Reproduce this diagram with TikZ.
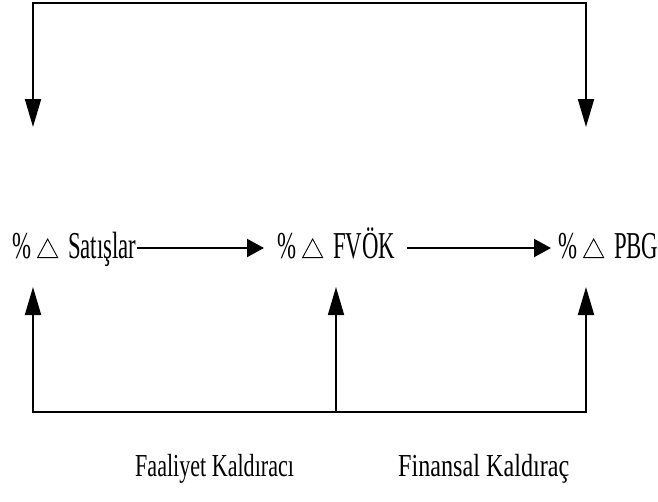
\documentclass[tikz,border=0pt]{standalone}
\usepackage{fontspec}
\setmainfont{Liberation Serif}
\usetikzlibrary{arrows.meta}
\newcommand{\tri}{\hspace{6pt}\tikz[baseline=0pt]\draw[line width=0.9pt,line join=miter] (0pt,0.45pt) -- (20pt,0.45pt) -- (10pt,19pt) -- cycle;\hspace{10pt}}
\newcommand{\nw}[1]{\scalebox{0.6}[1]{#1}}
\begin{document}
\begin{tikzpicture}[x=1pt,y=-1pt,
  lbl/.style={inner sep=0pt, font=\fontsize{38}{40}\selectfont},
  caplbl/.style={inner sep=0pt, font=\fontsize{32}{34}\selectfont},
  frame/.style={line width=2pt, line join=miter,
    {Triangle[length=28pt,width=16pt]}-{Triangle[length=28pt,width=16pt]}},
  varr/.style={line width=1.6pt, -{Triangle[length=28pt,width=16pt]}},
  harr/.style={line width=2.2pt, -{Triangle[length=17pt,width=18pt]}}]
\useasboundingbox (0,0) rectangle (658,501);
\node[lbl,anchor=base west] (s) at (12,258) {\nw{\%}\tri\nw{Satışlar}};
\node[lbl,anchor=base west] (f) at (277,258) {\nw{\%}\tri\nw{FVÖK}};
\node[lbl,anchor=base west] (p) at (558,258) {\nw{\%}\tri\nw{PBG}};
\node[caplbl,anchor=base west] (fk) at (135,476) {\scalebox{0.69}[1]{Faaliyet Kaldıracı}};
\node[caplbl,anchor=base west] (fn) at (398,476) {\scalebox{0.755}[1]{Finansal Kaldıraç}};
\draw[harr] ([yshift=10pt]s.base east) -- ([yshift=10pt,xshift=-13pt]f.base west);
\draw[harr] ([yshift=10pt,xshift=12pt]f.base east) -- ([yshift=10pt,xshift=-7pt]p.base west);
\coordinate (tl) at (33,3);
\coordinate (tr) at (586,3);
\coordinate (dl) at (33,127);
\coordinate (dr) at (586,127);
\coordinate (bl) at (33,412);
\coordinate (bm) at (336,412);
\coordinate (br) at (586,412);
\coordinate (ul) at (33,287);
\coordinate (um) at (336,287);
\coordinate (ur) at (586,287);
\draw[frame] (dl) -- (tl) -- (tr) -- (dr);
\draw[frame] (ul) -- (bl) -- (br) -- (ur);
\draw[varr] (bm) -- (um);
\end{tikzpicture}
\end{document}
